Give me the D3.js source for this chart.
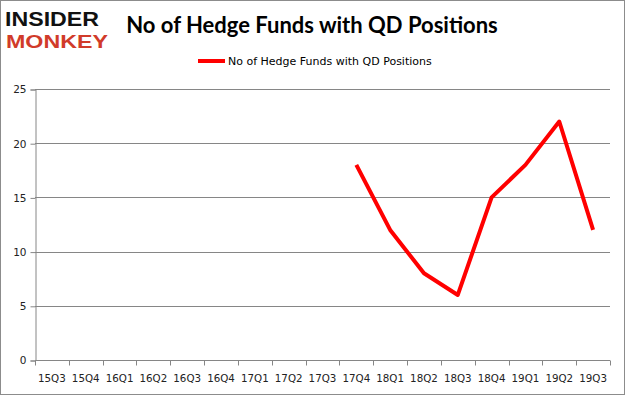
<!DOCTYPE html>
<html>
<head>
<meta charset="utf-8">
<script src="https://cdn.jsdelivr.net/npm/d3@7"></script>
<style>
  body { margin: 0; background: #fff; }
  svg { display: block; }
</style>
</head>
<body>
<div class="chart"></div>
<script>
// Data.
const quarters = ['15Q3', '15Q4', '16Q1', '16Q2', '16Q3', '16Q4', '17Q1', '17Q2', '17Q3',
                  '17Q4', '18Q1', '18Q2', '18Q3', '18Q4', '19Q1', '19Q2', '19Q3'];
const fundCounts = [null, null, null, null, null, null, null, null, null,
                    18, 12, 8, 6, 15, 18, 22, 12];
const yTicks = [0, 5, 10, 15, 20, 25];
const seriesName = 'No of Hedge Funds with QD Positions';

const width = 625, height = 395;
const margin = {top: 89, right: 15, bottom: 35, left: 35};

const svg = d3.select('.chart')
  .append('svg')
    .attr('width', width)
    .attr('height', height);

// Outer frame.
svg.append('rect')
  .attr('x', 0.5).attr('y', 0.5)
  .attr('width', width - 1).attr('height', height - 1)
  .attr('fill', '#fff')
  .attr('stroke', '#8c8c8c');

// Scales.
const x = d3.scaleBand()
  .domain(quarters)
  .range([margin.left, width - margin.right]);

const y = d3.scaleLinear()
  .domain([0, 25])
  .range([height - margin.bottom, margin.top]);

// Grid lines.
svg.append('g')
  .selectAll('line')
  .data(yTicks.filter(d => d > 0))
  .join('line')
    .attr('x1', margin.left)
    .attr('x2', width - margin.right)
    .attr('y1', d => Math.round(y(d)) + 0.5)
    .attr('y2', d => Math.round(y(d)) + 0.5)
    .attr('stroke', '#868686');

// Y axis.
const yAxis = svg.append('g')
  .attr('transform', `translate(${margin.left + 0.5},0.5)`)
  .call(d3.axisLeft(y).tickValues(yTicks).tickSize(5).tickPadding(4));
yAxis.select('.domain').attr('stroke', '#868686');
yAxis.selectAll('.tick line').attr('stroke', '#868686');
yAxis.selectAll('text')
  .attr('font-family', 'DejaVu Sans, Verdana, sans-serif')
  .attr('font-size', 10.5)
  .attr('fill', '#222');

// X axis with ticks on band edges.
const xAxisG = svg.append('g')
  .attr('transform', `translate(0,${Math.round(y(0)) + 0.5})`);
xAxisG.append('line')
  .attr('x1', margin.left).attr('x2', width - margin.right)
  .attr('stroke', '#868686');
xAxisG.selectAll('.tick')
  .data(quarters.concat(['end']))
  .join('line')
    .attr('class', 'tick')
    .attr('x1', (d, i) => Math.round(margin.left + i * x.step()) + 0.5)
    .attr('x2', (d, i) => Math.round(margin.left + i * x.step()) + 0.5)
    .attr('y1', 0).attr('y2', 5)
    .attr('stroke', '#868686');
xAxisG.selectAll('text')
  .data(quarters)
  .join('text')
    .attr('x', d => x(d) + x.bandwidth() / 2)
    .attr('y', 21)
    .attr('text-anchor', 'middle')
    .attr('font-family', 'DejaVu Sans, Verdana, sans-serif')
    .attr('font-size', 10.3)
    .attr('fill', '#222')
    .text(d => d);

// Line.
const line = d3.line()
  .defined(d => d != null)
  .x((d, i) => x(quarters[i]) + x.bandwidth() / 2)
  .y(d => y(d));

svg.append('path')
  .datum(fundCounts)
  .attr('d', line)
  .attr('fill', 'none')
  .attr('stroke', '#ff0000')
  .attr('stroke-width', 4)
  .attr('stroke-linejoin', 'round');

// Title.
svg.append('text')
  .attr('x', 312)
  .attr('y', 33)
  .attr('text-anchor', 'middle')
  .attr('font-family', 'Lato, sans-serif')
  .attr('font-weight', 'bold')
  .attr('font-size', 22)
  .attr('fill', '#000')
  .text(seriesName);

// Legend.
const legend = svg.append('g').attr('transform', 'translate(198,61)');
legend.append('line')
  .attr('x1', 0).attr('x2', 27)
  .attr('stroke', '#ff0000')
  .attr('stroke-width', 4);
legend.append('text')
  .attr('x', 30)
  .attr('y', 4)
  .attr('font-family', 'DejaVu Sans, Verdana, sans-serif')
  .attr('font-size', 11)
  .attr('fill', '#000')
  .text(seriesName);

// Logo (two stacked words; font boxes kept apart).
const logo = svg.append('g');
logo.append('text')
  .attr('x', 5).attr('y', 26)
  .attr('font-family', 'Liberation Sans, sans-serif')
  .attr('font-weight', 'bold')
  .attr('font-size', 21)
  .attr('textLength', 94)
  .attr('lengthAdjust', 'spacingAndGlyphs')
  .attr('fill', '#111')
  .text('INSIDER');
logo.append('text')
  .attr('x', 6).attr('y', 48)
  .attr('font-family', 'Liberation Sans, sans-serif')
  .attr('font-weight', 'bold')
  .attr('font-size', 19)
  .attr('textLength', 102)
  .attr('lengthAdjust', 'spacingAndGlyphs')
  .attr('fill', '#d13b2a')
  .text('MONKEY');
</script>
</body>
</html>
